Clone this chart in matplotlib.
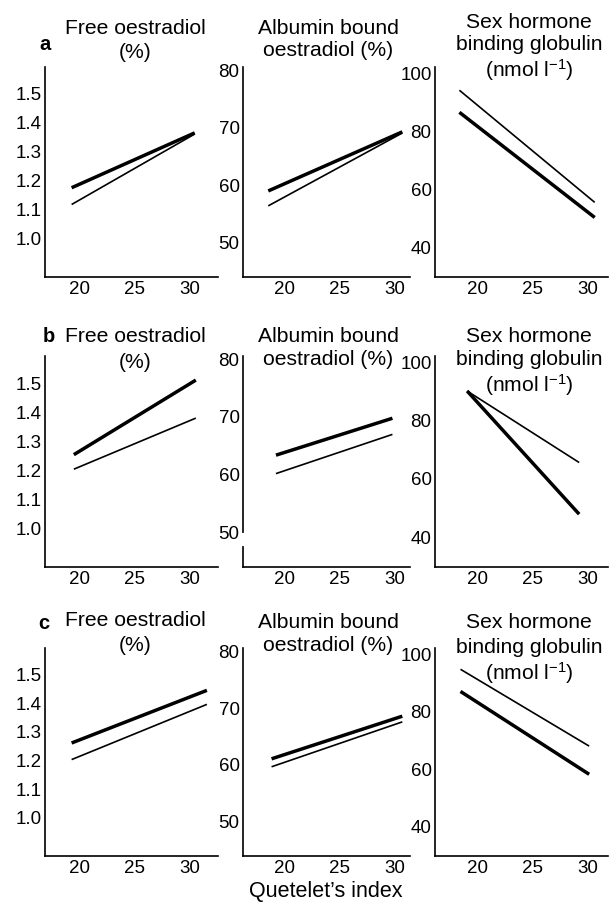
import matplotlib
matplotlib.use("Agg")
import matplotlib.pyplot as plt

plt.rcParams['font.family'] = ['Liberation Sans', 'DejaVu Sans']
plt.rcParams['mathtext.fontset'] = 'custom'
plt.rcParams['mathtext.rm'] = 'Liberation Sans'
plt.rcParams['mathtext.default'] = 'regular'

# Quetelet's index at the two ends of each fitted line, rows a-c
free_x = [[19.3, 30.4], [19.5, 30.5], [19.3, 31.5]]
free_thick = [[1.172, 1.362], [1.25, 1.507], [1.258, 1.442]]
free_thin = [[1.114, 1.358], [1.20, 1.376], [1.20, 1.393]]

alb_x = [[18.5, 30.7], [19.2, 29.8], [18.8, 30.7]]
alb_thick = [[58.8, 69.1], [63.2, 69.6], [60.9, 68.4]]
alb_thin = [[56.2, 68.9], [60.0, 66.8], [59.5, 67.4]]

shbg_x = [[18.4, 30.6], [19.1, 29.2], [18.5, 30.1]]
shbg_thick = [[86.2, 50.0], [89.8, 47.6], [86.7, 57.9]]
shbg_thin = [[93.8, 55.2], [89.8, 65.3], [94.4, 67.7]]

x_ticks = [20, 25, 30]
free_ticks = [1.0, 1.1, 1.2, 1.3, 1.4, 1.5]
alb_ticks = [50, 60, 70, 80]
shbg_ticks = [40, 60, 80, 100]

titles = [["Free oestradiol", "(%)"],
          ["Albumin bound", "oestradiol (%)"],
          ["Sex hormone", "binding globulin", "(nmol l$^{-1}$)"]]
row_letters = ["a", "b", "c"]

W, H = 614, 904
fig = plt.figure(figsize=(W / 100, H / 100), dpi=100)

col_px = [(45, 218), (243, 410), (435, 608)]
row_px = [(68, 278), (357, 568), (649, 857)]
xlims = [(16.9, 32.5), (16.2, 31.4), (16.2, 31.8)]
ylims = [(0.863, 1.59), (43.8, 80.4), (29.5, 101.8)]
yticks = [free_ticks, alb_ticks, shbg_ticks]
ylabels = [[f"{t:.1f}" for t in free_ticks], [str(t) for t in alb_ticks],
           [str(t) for t in shbg_ticks]]

series = [(free_x, free_thick, free_thin),
          (alb_x, alb_thick, alb_thin),
          (shbg_x, shbg_thick, shbg_thin)]

# title line centres (pixels) for each row and column
title_x = [135, 328, 529]
title_y = [[[29, 52], [28, 50], [22, 45, 70]],
           [[337, 363], [337, 360], [337, 360, 385]],
           [[621, 646], [622, 646], [623, 648, 673]]]
letter_pos = [(45, 45), (49, 337), (44, 624)]

for r in range(3):
    top, bot = row_px[r]
    for c in range(3):
        left, right = col_px[c]
        ax = fig.add_axes([left / W, 1 - bot / H, (right - left) / W, (bot - top) / H])
        xs, thick, thin = series[c]
        ax.plot(xs[r], thin[r], color='black', lw=1.2, solid_capstyle='butt')
        ax.plot(xs[r], thick[r], color='black', lw=2.5, solid_capstyle='butt')
        ax.set_xlim(*xlims[c])
        ax.set_ylim(*ylims[c])
        ax.set_xticks(x_ticks)
        ax.set_yticks(yticks[c])
        ax.set_yticklabels(ylabels[c])
        ax.tick_params(length=0, labelsize=13.5)
        ax.tick_params(axis='y', pad=2.5)
        ax.tick_params(axis='x', pad=2)
        for side in ['top', 'right']:
            ax.spines[side].set_visible(False)
        for side in ['left', 'bottom']:
            ax.spines[side].set_linewidth(1.2)
        ax.patch.set_alpha(0)
        if r == 1 and c == 1:
            # small break in the y axis just below 50
            ax.plot([0, 0], [47.8, 49.4], transform=ax.get_yaxis_transform(),
                    color='white', lw=3, clip_on=False, zorder=5)
        for line, ty in zip(titles[c], title_y[r][c]):
            fig.text(title_x[c] / W, 1 - ty / H, line, ha='center', va='center',
                     fontsize=15.2)
    lx, ly = letter_pos[r]
    fig.text(lx / W, 1 - ly / H, row_letters[r], ha='center', va='center',
             fontsize=14.5, fontweight='bold')

fig.text(326 / W, 1 - 892 / H, "Quetelet\u2019s index", ha='center', va='center',
         fontsize=15.5)

fig.savefig("out.png", dpi=100)
